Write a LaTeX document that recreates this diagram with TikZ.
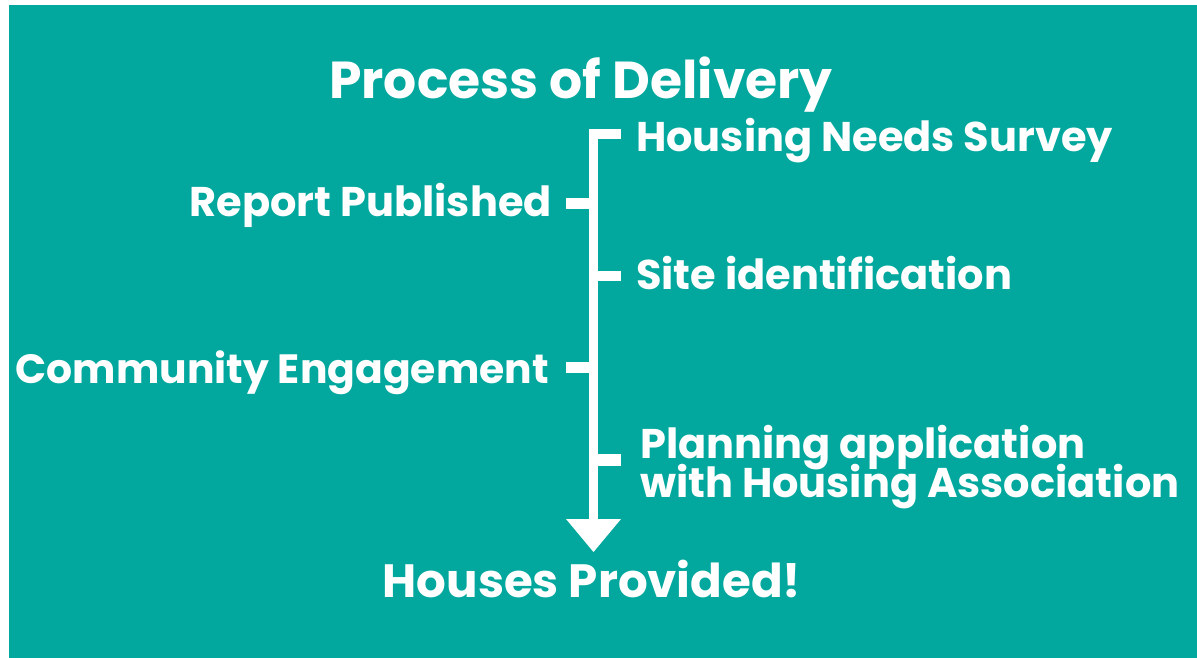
\documentclass[tikz,border=0pt]{standalone}
\usepackage{fontspec}
\setmainfont{Poppins}
\definecolor{bgteal}{RGB}{2,168,158}
\begin{document}
\begin{tikzpicture}[x=1pt,y=-1pt,
  txt/.style={text=white,inner sep=0pt,font=\bfseries\fontsize{41.5}{46}\selectfont},
  smalltxt/.style={txt,font=\bfseries\fontsize{40.9}{46}\selectfont},
  titletxt/.style={txt,font=\bfseries\fontsize{52}{56}\selectfont},
  endtxt/.style={txt,font=\bfseries\fontsize{46.7}{52}\selectfont}]
\useasboundingbox (0,0) rectangle (1197,658);
\fill[white] (0,0) rectangle (1197,658);
\fill[bgteal] (9,5) rectangle (1197,658);
% spine
\coordinate (top) at (593.5,129);
\coordinate (bot) at (593.5,521);
\fill[white] (589,129) rectangle (598,521);
\fill[white] (589,129) rectangle (621,139);
\fill[white] (566,198) rectangle (589,209);
\fill[white] (598,271) rectangle (621,281);
\fill[white] (566,362) rectangle (589,373);
\fill[white] (598,454) rectangle (621,466);
\fill[white] (566,519) -- (621,519) -- (593.5,552) -- cycle;
% texts
\node[titletxt,anchor=base] (title) at (581,99) {Process of Delivery};
\node[txt,anchor=base west] (hns) at (636,152) {Housing Needs Survey};
\node[txt,anchor=base east] (rp) at (552,216) {Report Published};
\node[txt,anchor=base west] (site) at (636,289) {Site identification};
\node[smalltxt,anchor=base east] (ce) at (549,383) {Community Engagement};
\node[txt,anchor=base west] (pa) at (640,458) {Planning application};
\node[txt,anchor=base west] (wha) at (640,497) {with Housing Association};
\node[endtxt,anchor=base] (hp) at (592,597) {Houses Provided!};
\end{tikzpicture}
\end{document}
